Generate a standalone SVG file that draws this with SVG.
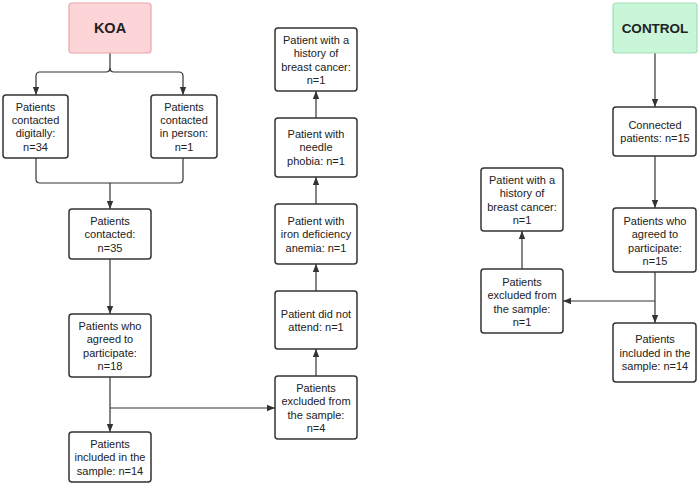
<svg xmlns="http://www.w3.org/2000/svg" width="699" height="485" viewBox="0 0 699 485">
<defs>
<marker id="ah" viewBox="0 0 10 10" refX="10" refY="5" markerWidth="8" markerHeight="8" markerUnits="userSpaceOnUse" orient="auto">
<path d="M0,1 L10,5 L0,9 Z" fill="#333"/>
</marker>
<style>
.box{fill:#fff;stroke:#333;stroke-width:1.5}
.koa{fill:#fdd5d8;stroke:#eba4aa;stroke-width:1.2}
.ctl{fill:#c9f5d9;stroke:#9fe0b4;stroke-width:1.2}
text{font-family:"Liberation Sans",Arial,sans-serif;font-size:11px;fill:#222;text-anchor:middle}
.t{font-weight:bold}
.c{fill:none;stroke:#333;stroke-width:1.2}
.a{marker-end:url(#ah)}
</style>
</defs>
<rect width="699" height="485" fill="#fff"/>
<g id="connectors">
<path class="c" d="M110 53 V68 Q110 72 106 72 H40 Q36 72 36 76 V95" marker-end="url(#ah)"/>
<path class="c" d="M110 68 Q110 72 114 72 H179 Q183 72 183 76 V95" marker-end="url(#ah)"/>
<path class="c" d="M36 158 V179 Q36 183 40 183 H179 Q183 183 183 179 V158"/>
<path class="c a" d="M110 183 V209"/>
<path class="c a" d="M110 259 V314"/>
<path class="c a" d="M110 377 V432"/>
<path class="c a" d="M110 408 H275"/>
<path class="c a" d="M316 376 V349"/>
<path class="c a" d="M316 291 V264"/>
<path class="c a" d="M316 204 V177"/>
<path class="c a" d="M316 118 V91"/>
<path class="c a" d="M655 53 V107"/>
<path class="c a" d="M655 156 V208"/>
<path class="c a" d="M655 272 V323"/>
<path class="c a" d="M655 301 H563"/>
<path class="c a" d="M522 269 V231"/>
</g>
<g id="koa">
<rect class="koa" x="69" y="3" width="82" height="50" rx="3"/>
<text class="t" x="110" y="33" style="font-size:14.5px">KOA</text>
</g>
<g id="digital">
<rect class="box" x="3" y="95" width="65" height="63" rx="3"/>
<text x="35.5" y="111">Patients</text><text x="35.5" y="124">contacted</text><text x="35.5" y="137">digitally:</text><text x="35.5" y="151">n=34</text>
</g>
<g id="inperson">
<rect class="box" x="151" y="95" width="66" height="63" rx="3"/>
<text x="184" y="111">Patients</text><text x="184" y="124">contacted</text><text x="184" y="137">in person:</text><text x="184" y="151">n=1</text>
</g>
<g id="contacted">
<rect class="box" x="69" y="209" width="82" height="50" rx="3"/>
<text x="110" y="225">Patients</text><text x="110" y="238">contacted:</text><text x="110" y="252">n=35</text>
</g>
<g id="agreed-koa">
<rect class="box" x="69" y="314" width="82" height="63" rx="3"/>
<text x="110" y="330">Patients who</text><text x="110" y="343">agreed to</text><text x="110" y="357">participate:</text><text x="110" y="370">n=18</text>
</g>
<g id="included-koa">
<rect class="box" x="69" y="432" width="82" height="50" rx="3"/>
<text x="110" y="448">Patients</text><text x="110" y="461">included in the</text><text x="110" y="475">sample: n=14</text>
</g>
<g id="excluded-koa">
<rect class="box" x="275" y="376" width="82" height="63" rx="3"/>
<text x="316" y="392">Patients</text><text x="316" y="405">excluded from</text><text x="316" y="419">the sample:</text><text x="316" y="432">n=4</text>
</g>
<g id="notattend">
<rect class="box" x="275" y="291" width="82" height="58" rx="3"/>
<text x="316" y="318">Patient did not</text><text x="316" y="331">attend: n=1</text>
</g>
<g id="anemia">
<rect class="box" x="275" y="204" width="82" height="60" rx="3"/>
<text x="316" y="225">Patient with</text><text x="316" y="238">iron deficiency</text><text x="316" y="252">anemia: n=1</text>
</g>
<g id="phobia">
<rect class="box" x="275" y="118" width="82" height="59" rx="3"/>
<text x="316" y="138">Patient with</text><text x="316" y="151">needle</text><text x="316" y="165">phobia: n=1</text>
</g>
<g id="cancer-koa">
<rect class="box" x="275" y="28" width="82" height="63" rx="3"/>
<text x="316" y="44">Patient with a</text><text x="316" y="57">history of</text><text x="316" y="71">breast cancer:</text><text x="316" y="84">n=1</text>
</g>
<g id="control">
<rect class="ctl" x="613" y="3" width="84" height="50" rx="3"/>
<text class="t" x="655" y="33" style="font-size:13.5px">CONTROL</text>
</g>
<g id="connected">
<rect class="box" x="613" y="107" width="83" height="49" rx="3"/>
<text x="655" y="129">Connected</text><text x="655" y="142">patients: n=15</text>
</g>
<g id="agreed-ctl">
<rect class="box" x="613" y="208" width="83" height="64" rx="3"/>
<text x="655" y="225">Patients who</text><text x="655" y="238">agreed to</text><text x="655" y="252">participate:</text><text x="655" y="265">n=15</text>
</g>
<g id="included-ctl">
<rect class="box" x="613" y="323" width="83" height="59" rx="3"/>
<text x="655" y="343">Patients</text><text x="655" y="357">included in the</text><text x="655" y="370">sample: n=14</text>
</g>
<g id="excluded-ctl">
<rect class="box" x="481" y="269" width="82" height="64" rx="3"/>
<text x="522" y="286">Patients</text><text x="522" y="299">excluded from</text><text x="522" y="313">the sample:</text><text x="522" y="326">n=1</text>
</g>
<g id="cancer-ctl">
<rect class="box" x="481" y="168" width="82" height="63" rx="3"/>
<text x="522" y="184">Patient with a</text><text x="522" y="197">history of</text><text x="522" y="211">breast cancer:</text><text x="522" y="224">n=1</text>
</g>
</svg>
